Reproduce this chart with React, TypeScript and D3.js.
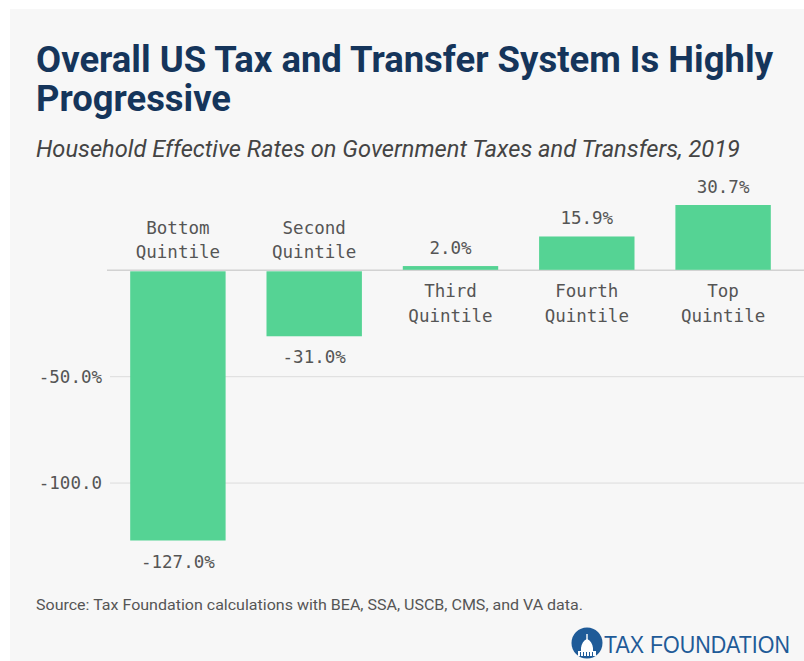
import { useEffect, useRef } from 'react';
import * as d3 from 'd3';

const categories = ['Bottom Quintile', 'Second Quintile', 'Third Quintile', 'Fourth Quintile', 'Top Quintile'];
const rates = [-127.0, -31.0, 2.0, 15.9, 30.7];
const yTicks = [-100, -50, 0];
const yTickLabels = ['-100.0', '-50.0%', ''];

const W = 804;
const H = 661;
const MONO = '"DejaVu Sans Mono", "Liberation Mono", monospace';
const SANS = 'Roboto, "Noto Sans", sans-serif';
const GREEN = '#55d394';
const NAVY = '#15355b';

export default function App() {
  const svgRef = useRef<SVGSVGElement>(null);

  useEffect(() => {
    const svg = d3.select(svgRef.current);
    svg.selectAll('*').remove();

    // ── panel ──
    svg.append('rect').attr('width', W).attr('height', H).attr('fill', '#fff');
    svg.append('rect').attr('x', 10).attr('y', 9).attr('width', W - 10).attr('height', H - 9).attr('fill', '#f7f7f7');

    // ── titles ──
    const title = svg.append('text')
      .attr('x', 36).attr('fill', NAVY)
      .attr('font-family', SANS).attr('font-weight', 700).attr('font-size', 37);
    title.append('tspan').attr('x', 36).attr('y', 72).attr('textLength', 737).attr('lengthAdjust', 'spacingAndGlyphs')
      .text('Overall US Tax and Transfer System Is Highly');
    title.append('tspan').attr('x', 36).attr('y', 111).attr('textLength', 195).attr('lengthAdjust', 'spacingAndGlyphs')
      .text('Progressive');

    svg.append('text')
      .attr('x', 36).attr('y', 157)
      .attr('fill', '#444').attr('font-family', SANS).attr('font-style', 'italic').attr('font-size', 23)
      .attr('textLength', 704).attr('lengthAdjust', 'spacingAndGlyphs')
      .text('Household Effective Rates on Government Taxes and Transfers, 2019');

    // ── scales ──
    const x = d3.scaleBand<string>()
      .domain(categories)
      .range([109.75, 791.25])
      .paddingInner(0.3)
      .paddingOuter(0.15);

    const y = d3.scaleLinear().domain([-127, 30.7]).range([540.5, 205]);

    // ── gridlines ──
    const grid = svg.append('g');
    yTicks.forEach((t, i) => {
      grid.append('line')
        .attr('x1', t === 0 ? 107 : 110).attr('x2', W)
        .attr('y1', y(t)).attr('y2', y(t))
        .attr('stroke', t === 0 ? '#d2d2d2' : '#dcdcdc').attr('stroke-width', t === 0 ? 1.5 : 1);
      if (yTickLabels[i]) {
        grid.append('text')
          .attr('x', 102).attr('y', y(t)).attr('dy', '0.35em')
          .attr('text-anchor', 'end')
          .attr('fill', '#555').attr('font-family', MONO).attr('font-size', 17.5)
          .text(yTickLabels[i]);
      }
    });

    // ── bars ──
    const g = svg.append('g');
    categories.forEach((c, i) => {
      const v = rates[i];
      const bx = x(c)!;
      const cx = bx + x.bandwidth() / 2;
      g.append('rect')
        .attr('x', bx).attr('width', x.bandwidth())
        .attr('y', Math.min(y(v), y(0) + (v < 0 ? 1 : 0)))
        .attr('height', Math.abs(y(v) - y(0)) - (v < 0 ? 1 : 0.5))
        .attr('fill', GREEN);

      const valText = v.toFixed(1) + '%';
      const words = c.split(' ');
      const txt = (yy: number, s: string) => g.append('text')
        .attr('x', cx).attr('y', yy)
        .attr('text-anchor', 'middle')
        .attr('fill', '#555').attr('font-family', MONO).attr('font-size', 17.5)
        .text(s);

      if (v >= 0) {
        txt(y(v) - 12, valText);
        txt(y(0) + 27, words[0]);
        txt(y(0) + 52, words[1]);
      } else {
        txt(y(v) + 27, valText);
        txt(y(0) - 36, words[0]);
        txt(y(0) - 12, words[1]);
      }
    });

    // ── source ──
    svg.append('text')
      .attr('x', 36).attr('y', 610)
      .attr('fill', '#555').attr('font-family', SANS).attr('font-size', 14.5)
      .attr('textLength', 547).attr('lengthAdjust', 'spacingAndGlyphs')
      .text('Source: Tax Foundation calculations with BEA, SSA, USCB, CMS, and VA data.');

    // ── logo ──
    const logo = svg.append('g');
    const LB = '#1f5b98';
    logo.append('circle').attr('cx', 587).attr('cy', 643).attr('r', 15.5).attr('fill', LB);
    // capitol dome silhouette
    logo.append('path')
      .attr('d', 'M578,656 L578,651 L581,651 L581,648 Q582,641 587,639 Q592,641 593,648 L593,651 L596,651 L596,656 Z')
      .attr('fill', '#fff');
    logo.append('rect').attr('x', 586.3).attr('y', 634).attr('width', 1.4).attr('height', 6).attr('fill', '#fff');
    [580, 583, 586, 589, 592].forEach(px => {
      logo.append('rect').attr('x', px).attr('y', 652).attr('width', 1).attr('height', 4).attr('fill', LB);
    });
    // condensed wordmark: squeeze horizontally with a transform so its box stays inside
    const wm = logo.append('g');
    const wmText = wm.append('text')
      .attr('x', 0).attr('y', 0)
      .attr('fill', LB).attr('font-family', '"Liberation Sans", Arial, sans-serif').attr('font-size', 24)
      .text('TAX FOUNDATION');
    const natural = (wmText.node() as SVGTextElement).getComputedTextLength() || 186;
    wm.attr('transform', `translate(604,653) scale(${186 / natural},1)`);
  }, []);

  return (
    <div style={{ position: 'fixed', left: 0, top: 0 }}>
      <svg ref={svgRef} width={W} height={H} style={{ display: 'block' }} />
    </div>
  );
}
